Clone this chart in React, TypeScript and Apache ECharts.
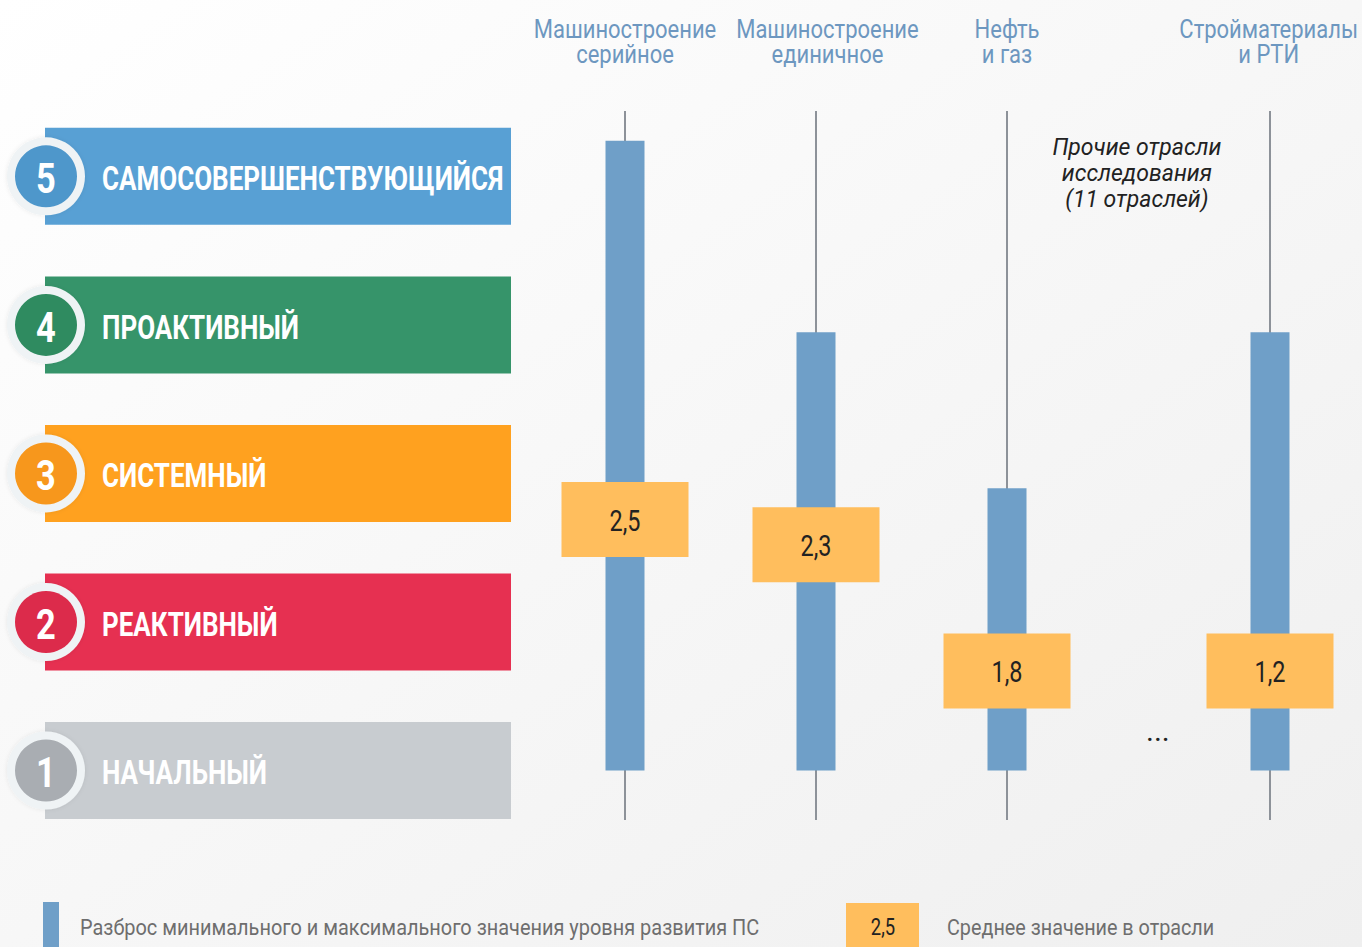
import React, { useEffect, useRef } from "react";
import * as echarts from "echarts";

// ---- data ----
const levels = [1, 2, 3, 4, 5];
const levelNames = ["НАЧАЛЬНЫЙ", "РЕАКТИВНЫЙ", "СИСТЕМНЫЙ", "ПРОАКТИВНЫЙ", "САМОСОВЕРШЕНСТВУЮЩИЙСЯ"];
const levelColors = ["#c8ccd0", "#e63051", "#ffa11f", "#36946a", "#58a0d4"];
const levelCircleColors = ["#a9adb2", "#dc2b4b", "#f7971c", "#2f8b60", "#4e97cb"];

const industries = ["Машиностроение\nсерийное", "Машиностроение\nединичное", "Нефть\nи газ", "Стройматериалы\nи РТИ"];
const industryX = [0, 1, 2, 3.377];
const headerX = [0, 1.06, 2, 3.37];
const rangeMin = [1, 1, 1, 1];
const rangeMax = [5.24, 3.95, 2.9, 3.95];
const meanLabels = ["2,5", "2,3", "1,8", "1,2"];
const meanLevel = [2.69, 2.52, 1.67, 1.67];

const otherLabel = "Прочие отрасли\nисследования\n(11 отраслей)";
const otherX = [2.68];
const otherLevel = [5.02];
const ellipsisX = [2.79];
const ellipsisLevel = [1.27];

const scaleMin = 0.667;
const scaleMax = 5.44;

const legendRangeText = "Разброс минимального и максимального значения уровня развития ПС";
const legendMeanText = "Среднее значение в отрасли";
const legendMeanSample = "2,5";

const FONT = "Roboto, 'Liberation Sans', sans-serif";

export default function App() {
  const ref = useRef<HTMLDivElement>(null);
  useEffect(() => {
    if (!ref.current) return;
    const chart = echarts.init(ref.current, null, { renderer: "svg" });

    const gridTop = 111;
    const gridHeight = 709;

    const option: any = {
      animation: false,
      backgroundColor: new echarts.graphic.LinearGradient(0, 0, 1, 1, [
        { offset: 0, color: "#ffffff" },
        { offset: 1, color: "#efefef" },
      ]),
      grid: [
        { left: 45, width: 466, top: gridTop, height: gridHeight },
        { left: 529.5, width: 830.85, top: gridTop, height: gridHeight },
      ],
      xAxis: [
        { type: "value", gridIndex: 0, min: 0, max: 1, show: false },
        { type: "value", gridIndex: 1, min: -0.5, max: 3.85, show: false },
      ],
      yAxis: [
        { type: "value", gridIndex: 0, min: scaleMin, max: scaleMax, show: false },
        { type: "value", gridIndex: 1, min: scaleMin, max: scaleMax, show: false },
      ],
      series: [
        {
          type: "custom",
          name: "levels",
          xAxisIndex: 0,
          yAxisIndex: 0,
          clip: false,
          data: levels.map((l, i) => [0, l, i]),
          renderItem: (params: any, api: any) => {
            const i = api.value(2);
            const l = api.value(1);
            const p = api.coord([0, l]);
            const pr = api.coord([1, l]);
            const h = api.size([0, 0.653])[1];
            return {
              type: "group",
              children: [
                {
                  type: "rect",
                  shape: { x: p[0], y: p[1] - h / 2, width: pr[0] - p[0], height: h },
                  style: { fill: levelColors[i] },
                },
                {
                  type: "circle",
                  shape: { cx: p[0] + 1, cy: p[1], r: 39 },
                  style: { fill: "#eff3f5", shadowBlur: 4, shadowColor: "rgba(0,0,0,0.08)" },
                },
                {
                  type: "circle",
                  shape: { cx: p[0] + 1, cy: p[1], r: 31 },
                  style: { fill: levelCircleColors[i] },
                },
                {
                  type: "text",
                  x: p[0] + 1,
                  y: p[1] + 2,
                  scaleX: 0.82,
                  style: {
                    text: String(l),
                    fill: "#ffffff",
                    fontSize: 42,
                    fontWeight: "bold",
                    fontFamily: FONT,
                    align: "center",
                    verticalAlign: "middle",
                  },
                },
                {
                  type: "text",
                  x: p[0] + 57,
                  y: p[1] + 2,
                  scaleX: 0.765,
                  style: {
                    text: levelNames[i],
                    fill: "#ffffff",
                    fontSize: 34,
                    fontWeight: "bold",
                    fontFamily: FONT,
                    align: "left",
                    verticalAlign: "middle",
                  },
                },
              ],
            };
          },
        },
        {
          type: "custom",
          name: "industries",
          xAxisIndex: 1,
          yAxisIndex: 1,
          clip: false,
          data: industries.map((_, i) => [industryX[i], rangeMin[i], rangeMax[i], meanLevel[i], i]),
          renderItem: (params: any, api: any) => {
            const x = api.value(0);
            const i = api.value(4);
            const top = api.coord([x, scaleMax]);
            const bot = api.coord([x, scaleMin]);
            const pHi = api.coord([x, api.value(2)]);
            const pLo = api.coord([x, api.value(1)]);
            const pM = api.coord([x, api.value(3)]);
            const boxH = api.size([0, 0.505])[1];
            return {
              type: "group",
              children: [
                {
                  type: "line",
                  shape: { x1: top[0], y1: top[1], x2: bot[0], y2: bot[1] },
                  style: { stroke: "#8d9299", lineWidth: 2 },
                },
                {
                  type: "rect",
                  shape: { x: pHi[0] - 19.5, y: pHi[1], width: 39, height: pLo[1] - pHi[1] },
                  style: { fill: "#6f9fc8" },
                },
                {
                  type: "rect",
                  shape: { x: pM[0] - 63.5, y: pM[1] - boxH / 2, width: 127, height: boxH },
                  style: { fill: "#ffbe5d" },
                },
                {
                  type: "text",
                  x: pM[0],
                  y: pM[1] + 1,
                  scaleX: 0.78,
                  style: {
                    text: meanLabels[i],
                    fill: "#222222",
                    fontSize: 30,
                    fontFamily: FONT,
                    align: "center",
                    verticalAlign: "middle",
                  },
                },
              ],
            };
          },
        },
        {
          type: "custom",
          name: "headers",
          xAxisIndex: 1,
          yAxisIndex: 1,
          clip: false,
          data: industries.map((_, i) => [headerX[i], scaleMax, i]),
          renderItem: (params: any, api: any) => {
            const p = api.coord([api.value(0), api.value(1)]);
            return {
              type: "text",
              x: p[0],
              y: p[1] - 69,
              scaleX: 0.88,
              style: {
                text: industries[api.value(2)],
                fill: "#6d97c0",
                fontSize: 25,
                lineHeight: 26,
                fontFamily: FONT,
                align: "center",
                verticalAlign: "middle",
              },
            };
          },
        },
        {
          type: "custom",
          name: "other",
          xAxisIndex: 1,
          yAxisIndex: 1,
          clip: false,
          data: otherX.map((x, i) => [x, otherLevel[i], ellipsisX[i], ellipsisLevel[i]]),
          renderItem: (params: any, api: any) => {
            const p = api.coord([api.value(0), api.value(1)]);
            const e = api.coord([api.value(2), api.value(3)]);
            return {
              type: "group",
              children: [
                {
                  type: "text",
                  x: p[0],
                  y: p[1],
                  scaleX: 1.0,
                  style: {
                    text: otherLabel,
                    fill: "#222222",
                    fontSize: 23,
                    lineHeight: 26,
                    fontStyle: "italic",
                    fontFamily: FONT,
                    align: "center",
                    verticalAlign: "middle",
                  },
                },
                {
                  type: "text",
                  x: e[0],
                  y: e[1],
                  style: {
                    text: "...",
                    fill: "#222222",
                    fontSize: 30,
                    fontFamily: FONT,
                    align: "center",
                    verticalAlign: "middle",
                  },
                },
              ],
            };
          },
        },
      ],
      graphic: [
        { type: "rect", shape: { x: 43, y: 902, width: 16, height: 50 }, style: { fill: "#6f9fc8" } },
        {
          type: "text",
          x: 80,
          y: 928,
          scaleX: 0.906,
          style: { text: legendRangeText, fill: "#6e6e6e", fontSize: 22, fontFamily: FONT, verticalAlign: "middle" },
        },
        { type: "rect", shape: { x: 846, y: 903, width: 73, height: 50 }, style: { fill: "#ffbe5d" } },
        {
          type: "text",
          x: 883,
          y: 927,
          scaleX: 0.8,
          style: { text: legendMeanSample, fill: "#222222", fontSize: 23, fontFamily: FONT, align: "center", verticalAlign: "middle" },
        },
        {
          type: "text",
          x: 947,
          y: 928,
          scaleX: 0.9,
          style: { text: legendMeanText, fill: "#6e6e6e", fontSize: 22, fontFamily: FONT, verticalAlign: "middle" },
        },
      ],
    };
    chart.setOption(option);
    return () => chart.dispose();
  }, []);
  return <div ref={ref} style={{ position: "fixed", left: 0, top: 0, width: 1362, height: 947 }} />;
}
